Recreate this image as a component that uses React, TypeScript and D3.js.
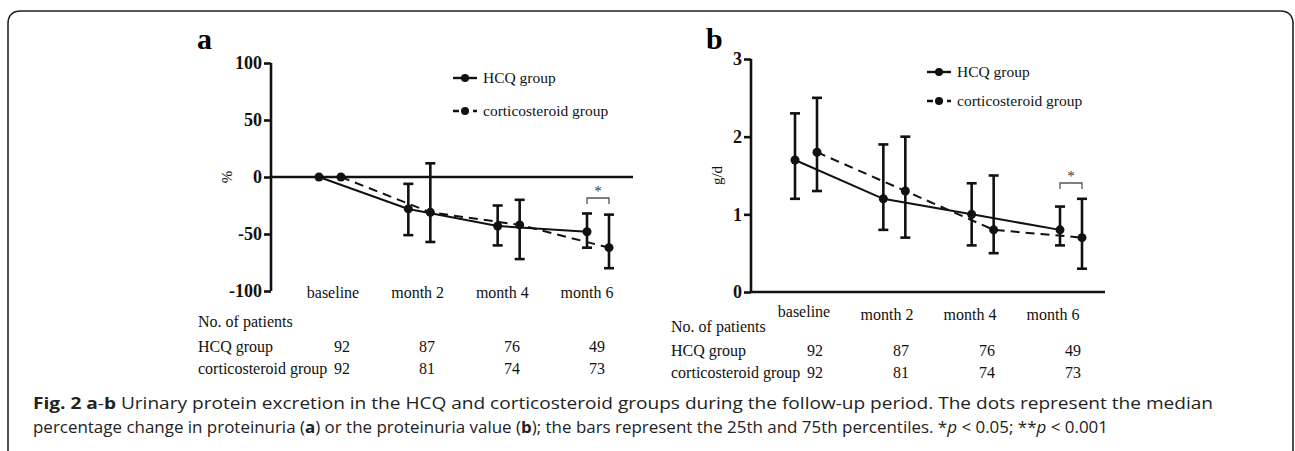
import React, { useEffect, useRef } from 'react';
import * as d3 from 'd3';

const categories = ['baseline', 'month 2', 'month 4', 'month 6'];
const groups = ['HCQ group', 'corticosteroid group'];

// panel a: median % change, 25th / 75th percentiles
const hcqPct = [0, -28, -43, -48];
const hcqPctLo = [0, -51, -60, -62];
const hcqPctHi = [0, -6, -25, -32];
const corPct = [0, -31, -42, -62];
const corPctLo = [0, -57, -72, -80];
const corPctHi = [0, 12, -20, -33];

// panel b: proteinuria g/d
const hcqVal = [1.7, 1.2, 1.0, 0.8];
const hcqValLo = [1.2, 0.8, 0.6, 0.6];
const hcqValHi = [2.3, 1.9, 1.4, 1.1];
const corVal = [1.8, 1.3, 0.8, 0.7];
const corValLo = [1.3, 0.7, 0.5, 0.3];
const corValHi = [2.5, 2.0, 1.5, 1.2];

const hcqPatients = [92, 87, 76, 49];
const corPatients = [92, 81, 74, 73];

const ticksA = [100, 50, 0, -50, -100];
const ticksB = [0, 1, 2, 3];

const captionLine1 = ' Urinary protein excretion in the HCQ and corticosteroid groups during the follow-up period. The dots represent the median';

const SERIF = '"Liberation Serif", "DejaVu Serif", serif';
const SANS = '"Open Sans", "Noto Sans", sans-serif';

type Panel = {
  letter: string;
  letterX: number;
  letterY: number;
  axisX: number;
  yDomain: [number, number];
  yRange: [number, number];
  ticks: number[];
  baseY: number; // horizontal axis value
  axisEnd: number;
  xRange: [number, number];
  labelRange: [number, number];
  labelY: number[];
  numRange: [number, number];
  tableY: number[];
  tableX: number;
  yLabel: string;
  yLabelX: number;
  legendX: number;
  legendY: [number, number];
  hcq: number[]; hcqLo: number[]; hcqHi: number[];
  cor: number[]; corLo: number[]; corHi: number[];
  bracketY: number;
};

const App: React.FC = () => {
  const svgRef = useRef<SVGSVGElement>(null);

  useEffect(() => {
    document.body.style.margin = '0';
    if (!svgRef.current) return;
    const svg = d3.select(svgRef.current);
    svg.selectAll('*').remove();

    // frame
    svg.append('path')
      .attr('d', 'M8,451 L8,24 Q8,11 21,11 L1280,11 Q1293,11 1293,24 L1293,451')
      .attr('fill', 'none').attr('stroke', '#222').attr('stroke-width', 1.6);

    const panels: Panel[] = [
      {
        letter: 'a', letterX: 197, letterY: 49, axisX: 271,
        yDomain: [-100, 100], yRange: [291, 63], ticks: ticksA, baseY: 0, axisEnd: 633,
        xRange: [330, 598], labelRange: [333, 587], labelY: [298, 298, 298, 298],
        numRange: [342, 597], tableY: [327, 352, 374], tableX: 198,
        yLabel: '%', yLabelX: 232, legendX: 453, legendY: [78, 111],
        hcq: hcqPct, hcqLo: hcqPctLo, hcqHi: hcqPctHi,
        cor: corPct, corLo: corPctLo, corHi: corPctHi, bracketY: 198,
      },
      {
        letter: 'b', letterX: 706, letterY: 49, axisX: 751,
        yDomain: [0, 3], yRange: [292, 59], ticks: ticksB, baseY: 0, axisEnd: 1105,
        xRange: [806, 1071], labelRange: [804, 1053], labelY: [317, 320, 320, 320],
        numRange: [815, 1073], tableY: [332, 356, 378], tableX: 671,
        yLabel: 'g/d', yLabelX: 722, legendX: 927, legendY: [72, 101],
        hcq: hcqVal, hcqLo: hcqValLo, hcqHi: hcqValHi,
        cor: corVal, corLo: corValLo, corHi: corValHi, bracketY: 183,
      },
    ];

    panels.forEach(p => {
      const g = svg.append('g');
      const y = d3.scaleLinear().domain(p.yDomain).range(p.yRange);
      const x = d3.scalePoint<string>().domain(categories).range(p.xRange);
      const xl = d3.scalePoint<string>().domain(categories).range(p.labelRange);
      const xn = d3.scalePoint<string>().domain(categories).range(p.numRange);
      const off = 11;

      g.append('text').attr('x', p.letterX).attr('y', p.letterY)
        .attr('font-family', SERIF).attr('font-weight', 'bold').attr('font-size', 30)
        .text(p.letter);

      // y axis
      const yAxis = d3.axisLeft(y).tickValues(p.ticks).tickSize(7).tickPadding(2)
        .tickFormat(d => String(d));
      const ga = g.append('g').attr('transform', `translate(${p.axisX},0)`).call(yAxis);
      ga.select('.domain').attr('stroke', '#111').attr('stroke-width', 2.6)
        .attr('d', `M0,${p.yRange[0]}V${p.yRange[1]}`);
      ga.selectAll('.tick line').attr('stroke', '#111').attr('stroke-width', 2.6);
      ga.selectAll('.tick text').attr('font-family', SERIF).attr('font-weight', 'bold')
        .attr('font-size', 18).attr('fill', '#111');

      // horizontal axis line
      g.append('line').attr('x1', p.axisX).attr('x2', p.axisEnd)
        .attr('y1', y(p.baseY)).attr('y2', y(p.baseY))
        .attr('stroke', '#111').attr('stroke-width', 2.6);

      g.append('text')
        .attr('transform', `translate(${p.yLabelX},${(p.yRange[0] + p.yRange[1]) / 2}) rotate(-90)`)
        .attr('text-anchor', 'middle').attr('font-family', SERIF).attr('font-size', 15)
        .attr('fill', '#111').text(p.yLabel);

      // category labels
      categories.forEach((c, i) => {
        g.append('text').attr('x', xl(c)!).attr('y', p.labelY[i])
          .attr('text-anchor', 'middle').attr('font-family', SERIF).attr('font-size', 16)
          .attr('fill', '#111').text(c);
      });

      // series
      const series = [
        { v: p.hcq, lo: p.hcqLo, hi: p.hcqHi, dx: -off, dash: null as string | null },
        { v: p.cor, lo: p.corLo, hi: p.corHi, dx: off, dash: '9,6' },
      ];
      series.forEach(s => {
        const line = d3.line<number>().x((_, i) => x(categories[i])! + s.dx).y(d => y(d));
        g.append('path').attr('d', line(s.v)!).attr('fill', 'none')
          .attr('stroke', '#111').attr('stroke-width', 2)
          .attr('stroke-dasharray', s.dash);
        s.v.forEach((v, i) => {
          const cx = x(categories[i])! + s.dx;
          if (s.hi[i] !== s.lo[i]) {
            g.append('line').attr('x1', cx).attr('x2', cx).attr('y1', y(s.lo[i])).attr('y2', y(s.hi[i]))
              .attr('stroke', '#111').attr('stroke-width', 2.6);
            [s.lo[i], s.hi[i]].forEach(e => {
              g.append('line').attr('x1', cx - 5).attr('x2', cx + 5).attr('y1', y(e)).attr('y2', y(e))
                .attr('stroke', '#111').attr('stroke-width', 2.6);
            });
          }
          g.append('circle').attr('cx', cx).attr('cy', y(v)).attr('r', 4.5).attr('fill', '#111');
        });
      });

      // significance bracket at month 6
      const bx1 = x(categories[3])! - off;
      const bx2 = x(categories[3])! + off;
      g.append('path')
        .attr('d', `M${bx1},${p.bracketY + 6}V${p.bracketY}H${bx2}V${p.bracketY + 6}`)
        .attr('fill', 'none').attr('stroke', '#555').attr('stroke-width', 1.3);
      g.append('text').attr('x', (bx1 + bx2) / 2).attr('y', p.bracketY - 2)
        .attr('text-anchor', 'middle').attr('font-family', SERIF).attr('font-size', 15)
        .attr('fill', '#333').text('*');

      // legend
      groups.forEach((name, i) => {
        const ly = p.legendY[i];
        g.append('line').attr('x1', p.legendX).attr('x2', p.legendX + 24).attr('y1', ly).attr('y2', ly)
          .attr('stroke', '#111').attr('stroke-width', 2.4)
          .attr('stroke-dasharray', i === 0 ? null : '6,4');
        g.append('circle').attr('cx', p.legendX + 12).attr('cy', ly).attr('r', 4).attr('fill', '#111');
        g.append('text').attr('x', p.legendX + 30).attr('y', ly + 5)
          .attr('font-family', SERIF).attr('font-size', 15.5).attr('fill', '#111').text(name);
      });

      // patient table
      g.append('text').attr('x', p.tableX).attr('y', p.tableY[0])
        .attr('font-family', SERIF).attr('font-size', 16).attr('fill', '#111').text('No. of patients');
      [hcqPatients, corPatients].forEach((row, r) => {
        const ty = p.tableY[r + 1];
        g.append('text').attr('x', p.tableX).attr('y', ty)
          .attr('font-family', SERIF).attr('font-size', 16).attr('fill', '#111').text(groups[r]);
        row.forEach((n, i) => {
          g.append('text').attr('x', xn(categories[i])!).attr('y', ty).attr('text-anchor', 'middle')
            .attr('font-family', SERIF).attr('font-size', 16).attr('fill', '#111').text(String(n));
        });
      });
    });

    // caption
    const cap1 = svg.append('text').attr('x', 33).attr('y', 409)
      .attr('font-family', SANS).attr('font-size', 16).attr('fill', '#222')
      .attr('textLength', 1180).attr('lengthAdjust', 'spacingAndGlyphs');
    cap1.append('tspan').attr('font-weight', 'bold').text('Fig. 2 a');
    cap1.append('tspan').text('-');
    cap1.append('tspan').attr('font-weight', 'bold').text('b');
    cap1.append('tspan').text(captionLine1);

    const cap2 = svg.append('text').attr('x', 33).attr('y', 433)
      .attr('font-family', SANS).attr('font-size', 16).attr('fill', '#222')
      .attr('textLength', 1075).attr('lengthAdjust', 'spacingAndGlyphs');
    cap2.append('tspan').text('percentage change in proteinuria (');
    cap2.append('tspan').attr('font-weight', 'bold').text('a');
    cap2.append('tspan').text(') or the proteinuria value (');
    cap2.append('tspan').attr('font-weight', 'bold').text('b');
    cap2.append('tspan').text('); the bars represent the 25th and 75th percentiles. *');
    cap2.append('tspan').attr('font-style', 'italic').text('p');
    cap2.append('tspan').text(' < 0.05; **');
    cap2.append('tspan').attr('font-style', 'italic').text('p');
    cap2.append('tspan').text(' < 0.001');
  }, []);

  return <svg ref={svgRef} width={1295} height={451} style={{ display: 'block' }} />;
};

export default App;
